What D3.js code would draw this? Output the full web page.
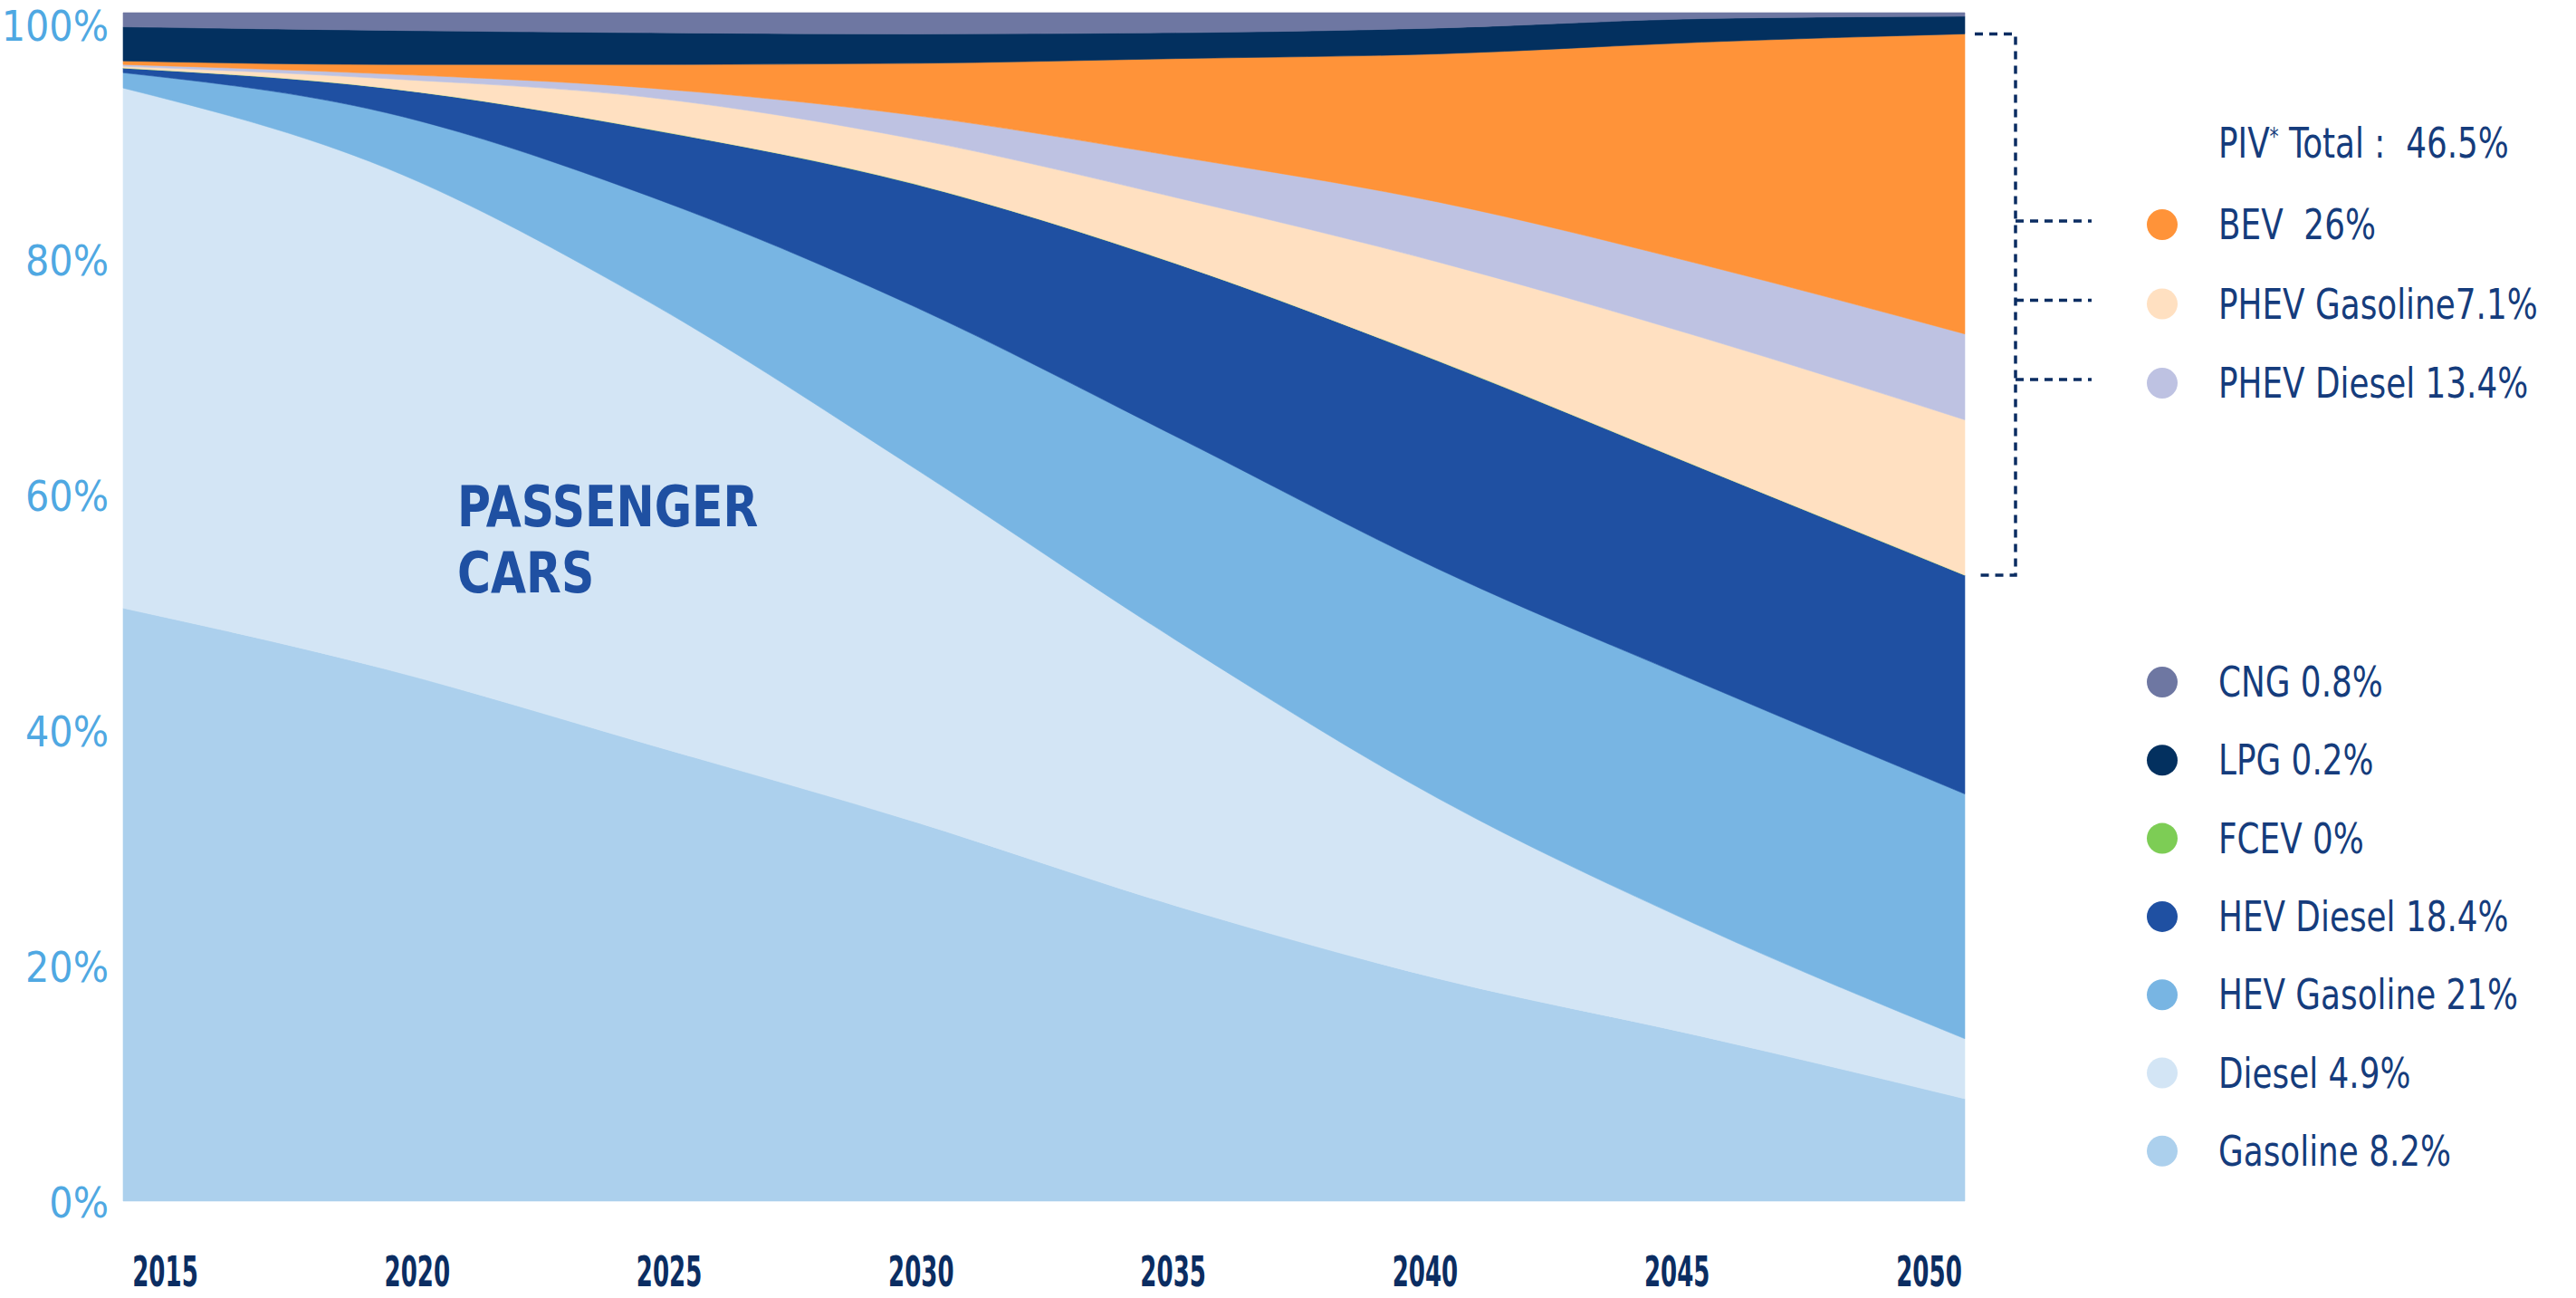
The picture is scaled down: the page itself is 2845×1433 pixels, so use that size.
<!DOCTYPE html>
<html>
<head>
<meta charset="utf-8">
<script src="https://cdn.jsdelivr.net/npm/d3@7"></script>
<style>
    body { margin: 0; background: #fff; }
    svg text { font-family: "Liberation Sans Narrow", "DejaVu Sans Condensed", "Roboto", sans-serif; }
</style>
</head>
<body>
<div id="chart"></div>
<script>
// Years on the x axis and percent ticks on the y axis
const years = [2015, 2020, 2025, 2030, 2035, 2040, 2045, 2050];
const yTicks = [0, 20, 40, 60, 80, 100];

// Shares in %, bottom of the stack first
const gasoline = [50.4, 45.2, 38.8, 32.3, 25.1, 18.9, 14.0, 8.7];
const diesel = [44.2, 42.6, 37.6, 30.1, 22.6, 15.3, 9.3, 5.1];
const hevGasoline = [1.3, 4.7, 9.0, 13.7, 17.3, 19.5, 20.7, 20.8];
const hevDiesel = [0.4, 2.1, 5.7, 10.4, 14.7, 17.7, 18.3, 18.6];
const fcev = [0, 0, 0, 0, 0, 0, 0, 0];
const phevGasoline = [0.15, 0.8, 2.7, 3.8, 5.6, 8.4, 11.1, 13.2];
const phevDiesel = [0.15, 0.4, 0.8, 2.0, 3.5, 5.1, 6.2, 7.3];
const bev = [0.3, 0.8, 2.0, 4.4, 8.3, 12.6, 18.9, 25.5];
const lpg = [2.9, 2.9, 2.7, 2.5, 2.2, 2.2, 2.0, 1.5];
const cng = [1.2, 1.5, 1.7, 1.8, 1.7, 1.3, 0.5, 0.3];

const seriesKeys = ["Gasoline", "Diesel", "HEV Gasoline", "HEV Diesel", "FCEV",
    "PHEV Gasoline", "PHEV Diesel", "BEV", "LPG", "CNG"];
const seriesValues = [gasoline, diesel, hevGasoline, hevDiesel, fcev,
    phevGasoline, phevDiesel, bev, lpg, cng];
const seriesColors = ["#acd0ed", "#d3e5f5", "#78b5e3", "#1f50a2", "#7dcd55",
    "#ffe0c1", "#bec2e2", "#ff9339", "#03305f", "#6e77a2"];

// Legend texts
const pivLabel = ["PIV", "*", " Total :  46.5%"];
const legendTop = [["BEV", "BEV  26%"], ["PHEV Gasoline", "PHEV Gasoline7.1%"], ["PHEV Diesel", "PHEV Diesel 13.4%"]];
const legendBottom = [["CNG", "CNG 0.8%"], ["LPG", "LPG 0.2%"], ["FCEV", "FCEV 0%"],
    ["HEV Diesel", "HEV Diesel 18.4%"], ["HEV Gasoline", "HEV Gasoline 21%"],
    ["Diesel", "Diesel 4.9%"], ["Gasoline", "Gasoline 8.2%"]];
const chartLabel = ["PASSENGER", "CARS"];

function drawChart() {
    const W = 2845, H = 1433;
    const plot = { left: 136, right: 2170, top: 27, bottom: 1326 };
    const navy = "#0b2d62", legendInk = "#153c7c";
    // the original uses a narrow face, squeeze the glyphs horizontally
    const squeeze = 0.865;

    const color = d3.scaleOrdinal().domain(seriesKeys).range(seriesColors);

    const svg = d3.select("#chart").append("svg")
        .attr("width", W)
        .attr("height", H)
        .style("display", "block");

    // Scales
    const x = d3.scaleLinear().domain(d3.extent(years)).range([plot.left, plot.right]);
    const xLabels = x.copy().range([182, 2130]);
    const y = d3.scaleLinear().domain([0, 100]).range([plot.bottom, plot.top]);

    // Stack table
    const table = years.map((year, i) => {
        const row = { year };
        seriesKeys.forEach((k, j) => { row[k] = seriesValues[j][i]; });
        return row;
    });
    const stacked = d3.stack().keys(seriesKeys)(table);

    const area = d3.area()
        .x(d => x(d.data.year))
        .y0(d => y(d[0]))
        .y1(d => y(d[1]))
        .curve(d3.curveMonotoneX);

    svg.append("g").selectAll("path")
        .data(stacked)
        .join("path")
        .attr("d", area)
        .attr("fill", d => color(d.key))
        .attr("stroke", d => color(d.key))
        .attr("stroke-width", 0.6);

    // Y axis
    const yAxis = svg.append("g")
        .attr("transform", "translate(" + plot.left + ",0)")
        .call(d3.axisLeft(y).tickValues(yTicks).tickSize(0).tickPadding(16).tickFormat(d => d + "%"));
    yAxis.select(".domain").remove();
    yAxis.selectAll("text")
        .attr("dy", "0.37em")
        .attr("fill", "#4fa8e2")
        .style("font-size", "46px");

    // X axis
    const xAxis = svg.append("g")
        .attr("transform", "translate(0," + plot.bottom + ")")
        .call(d3.axisBottom(xLabels).tickValues(years).tickSize(0).tickFormat(d3.format("d")));
    xAxis.select(".domain").remove();
    xAxis.selectAll("text")
        .attr("y", 0)
        .attr("dy", "0.35em")
        .attr("transform", "translate(0,78) scale(0.63,1)")
        .attr("fill", navy)
        .style("font-size", "46px")
        .style("font-weight", "bold");

    // Label inside the chart
    svg.append("text")
        .attr("transform", "translate(505,0) scale(0.89,1)")
        .attr("fill", "#1f50a2")
        .style("font-size", "63px")
        .style("font-weight", "bold")
        .selectAll("tspan")
        .data(chartLabel)
        .join("tspan")
        .attr("x", 0)
        .attr("y", (d, i) => 581 + i * 73)
        .text(d => d);

    // Legend rows
    const dotX = 2388, textX = 2450, r = 17;
    const topRowY = i => 248 + i * 87.5;
    const bottomRowY = i => 753 + i * 86.3;

    const legendText = yPos => svg.append("text")
        .attr("transform", "translate(" + textX + "," + yPos + ") scale(" + squeeze + ",1)")
        .attr("dy", "0.35em")
        .attr("fill", legendInk)
        .style("font-size", "46px")
        .style("white-space", "pre");

    const addRows = (items, rowY) => {
        items.forEach(([key, label], i) => {
            svg.append("circle")
                .attr("cx", dotX)
                .attr("cy", rowY(i))
                .attr("r", r)
                .attr("fill", color(key));
            legendText(rowY(i)).text(label);
        });
    };
    addRows(legendTop, topRowY);
    addRows(legendBottom, bottomRowY);

    // PIV total title
    const piv = legendText(158);
    piv.append("tspan").text(pivLabel[0]);
    piv.append("tspan").attr("dy", -14).style("font-size", "26px").text(pivLabel[1]);
    piv.append("tspan").attr("dy", 14).text(pivLabel[2]);

    // Dashed bracket around the PIV bands, taken from the last year of the stack
    const last = years.length - 1;
    const byKey = k => stacked.find(s => s.key === k)[last];
    const bTop = y(byKey("BEV")[1]), bBottom = y(byKey("PHEV Gasoline")[0]);
    const bx0 = plot.right + 11, bx1 = plot.right + 56;
    const dashed = g => g.attr("fill", "none")
        .attr("stroke", navy)
        .attr("stroke-width", 3.5)
        .attr("stroke-dasharray", "9,7");

    svg.append("path")
        .attr("d", "M" + bx0 + "," + bTop + "H" + bx1 + "V" + bBottom + "H" + bx0)
        .call(dashed);

    legendTop.forEach((item, i) => {
        svg.append("line")
            .attr("x1", bx1)
            .attr("x2", bx1 + 84)
            .attr("y1", topRowY(i) - 4)
            .attr("y2", topRowY(i) - 4)
            .call(dashed);
    });
}

window.addEventListener("load", drawChart);
</script>
</body>
</html>
